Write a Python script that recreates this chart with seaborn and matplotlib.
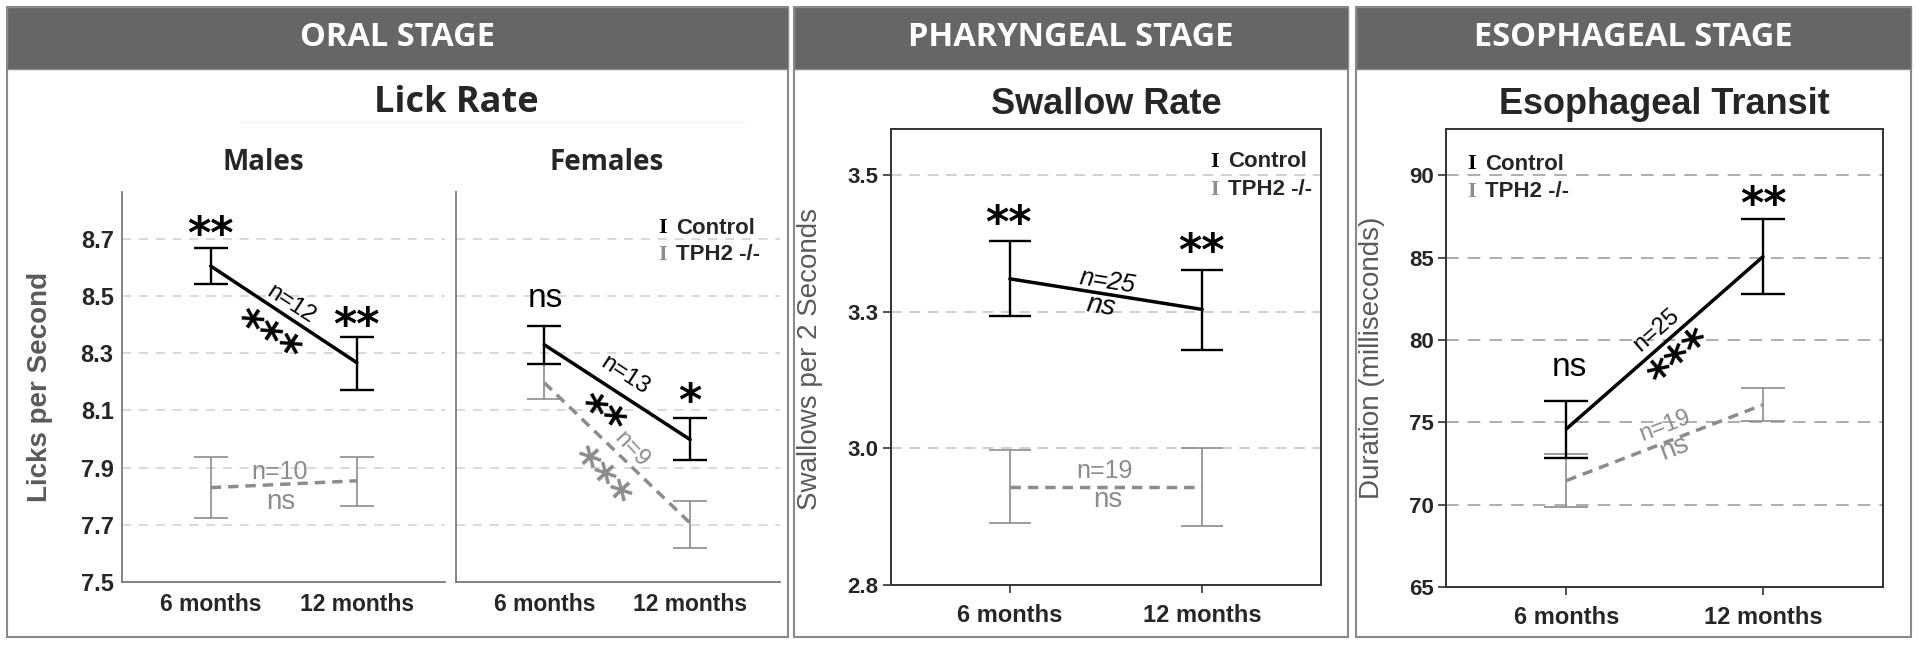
import numpy as np
import pandas as pd
import matplotlib
matplotlib.use("Agg")
import matplotlib.pyplot as plt
import matplotlib.transforms as mtransforms
import seaborn as sns
from matplotlib.patches import Rectangle
from matplotlib.lines import Line2D

# x categories
ages = ["6 months", "12 months"]

# Lick rate - males
males_ctrl_mean = [8.605, 8.267]
males_ctrl_lo = [8.541, 8.173]
males_ctrl_hi = [8.667, 8.356]
males_ko_mean = [7.83, 7.854]
males_ko_lo = [7.723, 7.767]
males_ko_hi = [7.937, 7.937]

# Lick rate - females
fem_ctrl_mean = [8.33, 7.998]
fem_ctrl_lo = [8.262, 7.927]
fem_ctrl_hi = [8.397, 8.075]
fem_ko_mean = [8.197, 7.706]
fem_ko_lo = [8.14, 7.62]
fem_ko_hi = [8.262, 7.782]

# Swallow rate
swal_ctrl_mean = [3.31, 3.254]
swal_ctrl_lo = [3.242, 3.18]
swal_ctrl_hi = [3.379, 3.326]
swal_ko_mean = [2.929, 2.929]
swal_ko_lo = [2.864, 2.857]
swal_ko_hi = [2.997, 3.0]

# Esophageal transit
eso_ctrl_mean = [74.6, 85.05]
eso_ctrl_lo = [72.84, 82.76]
eso_ctrl_hi = [76.26, 87.36]
eso_ko_mean = [71.46, 76.06]
eso_ko_lo = [69.85, 75.1]
eso_ko_hi = [73.07, 77.06]

lick_ticks = [7.5, 7.7, 7.9, 8.1, 8.3, 8.5, 8.7]
swal_ticks = [2.75, 3.0, 3.25, 3.5]
swal_tick_labels = ["2.8", "3.0", "3.3", "3.5"]
eso_ticks = [65, 70, 75, 80, 85, 90]

GRAY = "#8c8c8c"
W, H = 1920, 646

sns.set_theme(style="white")
plt.rcParams["font.family"] = ["Liberation Sans", "DejaVu Sans"]

fig = plt.figure(figsize=(19.2, 6.46), dpi=100)


def fx(px):
    return px / W


def fy(py):
    return 1 - py / H


def add_axes(left, top, right, bottom):
    return fig.add_axes([fx(left), fy(bottom), fx(right) - fx(left), (bottom - top) / H])


def draw(ax, cm, clo, chi, km, klo, khi, cap):
    x = [0, 1]
    km_a, klo_a, khi_a = np.array(km), np.array(klo), np.array(khi)
    cm_a, clo_a, chi_a = np.array(cm), np.array(clo), np.array(chi)
    ax.errorbar(x, km_a, yerr=[km_a - klo_a, khi_a - km_a], fmt="none",
                ecolor=GRAY, elinewidth=1.2, capsize=cap, capthick=1.2, zorder=2)
    df = pd.DataFrame({"age": [0, 1, 0, 1], "value": list(cm) + list(km),
                       "group": ["Control"] * 2 + ["TPH2 -/-"] * 2})
    sns.lineplot(data=df, x="age", y="value", hue="group", style="group",
                 palette={"Control": "black", "TPH2 -/-": GRAY},
                 dashes={"Control": "", "TPH2 -/-": (3, 2)},
                 linewidth=2.5, legend=False, ax=ax, zorder=3)
    ax.errorbar(x, cm_a, yerr=[cm_a - clo_a, chi_a - cm_a], fmt="none",
                ecolor="black", elinewidth=1.7, capsize=cap, capthick=1.7, zorder=4)
    ax.set_xlabel("")
    ax.set_ylabel("")


def stars(ax, x, y, s, rot=0, color="black", size=32):
    # asterisks sit high in the glyph box; shift so their visual centre lands on (x, y)
    off = 0.29 * size * 100 / 72
    th = np.radians(rot)
    tr = mtransforms.offset_copy(ax.transData, fig=fig, x=off * np.sin(th),
                                 y=-off * np.cos(th), units="dots")
    ax.text(x, y, s, transform=tr, family="DejaVu Sans", fontsize=size,
            fontweight="bold", color=color, rotation=rot, rotation_mode="anchor",
            ha="center", va="center")


def label(ax, x, y, s, size, rot=0, color="black", style="normal"):
    ax.text(x, y, s, fontsize=size, color=color, style=style, rotation=rot,
            rotation_mode="anchor", ha="center", va="center")


def legend_text(ax, x, y1, y2, tx, size=16):
    ax.text(x, y1, "I", family="Liberation Serif", fontsize=size, fontweight="bold",
            color="black", ha="center", va="center")
    ax.text(x, y2, "I", family="Liberation Serif", fontsize=size, fontweight="bold",
            color=GRAY, ha="center", va="center")
    ax.text(tx, y1, "Control", fontsize=size, fontweight="bold", ha="left", va="center")
    ax.text(tx, y2, "TPH2 -/-", fontsize=size, fontweight="bold", ha="left", va="center")


# panel frames and headers
panels = [(7, 788, "ORAL STAGE"), (794, 1348, "PHARYNGEAL STAGE"),
          (1356, 1911, "ESOPHAGEAL STAGE")]
for l, r, name in panels:
    fig.add_artist(Rectangle((fx(l), fy(637)), fx(r) - fx(l), (637 - 7) / H,
                             transform=fig.transFigure, facecolor="white",
                             edgecolor="#8a8a8a", lw=1.5, zorder=0))
    fig.add_artist(Rectangle((fx(l), fy(69)), fx(r) - fx(l), (69 - 7) / H,
                             transform=fig.transFigure, facecolor="#666666",
                             edgecolor="#8a8a8a", lw=1.0, zorder=1))
    fig.text(fx((l + r) / 2), fy(38), name, family="Open Sans", fontweight="bold",
             fontsize=23.5, color="white", ha="center", va="center")

# ---------- Oral stage ----------
fig.text(fx(456), fy(103), "Lick Rate", family="Open Sans", fontweight="bold",
         fontsize=26, ha="center", va="center")
fig.add_artist(Line2D([fx(240), fx(745)], [fy(122), fy(122)], color="#f2f2f2", lw=1.0))
fig.text(fx(263), fy(163), "Males", family="Open Sans", fontweight="bold",
         fontsize=20, ha="center", va="center")
fig.text(fx(607), fy(163), "Females", family="Open Sans", fontweight="bold",
         fontsize=20, ha="center", va="center")

ax_m = add_axes(122, 192, 445, 582)
ax_f = add_axes(456, 192, 780, 582)
draw(ax_m, males_ctrl_mean, males_ctrl_lo, males_ctrl_hi,
     males_ko_mean, males_ko_lo, males_ko_hi, 12.5)
draw(ax_f, fem_ctrl_mean, fem_ctrl_lo, fem_ctrl_hi,
     fem_ko_mean, fem_ko_lo, fem_ko_hi, 12.5)
ax_m.set_xlim(-0.607, 1.603)
ax_f.set_xlim(-0.605, 1.616)
for ax in (ax_m, ax_f):
    ax.set_ylim(7.5, 8.864)
    ax.set_yticks(lick_ticks)
    ax.set_xticks([0, 1])
    ax.set_xticklabels(ages, fontsize=16.5, fontweight="bold")
    for s in ("top", "right"):
        ax.spines[s].set_visible(False)
    for s in ("left", "bottom"):
        ax.spines[s].set_color("#7a7a7a")
        ax.spines[s].set_linewidth(1.3)
    ax.tick_params(length=0, pad=8)
    ax.patch.set_alpha(0)
    for t in lick_ticks[1:]:
        ax.axhline(t, color="#cfcfcf", lw=1.1, ls=(0, (6, 5)), zorder=0)
ax_m.set_yticklabels([f"{t:.1f}" for t in lick_ticks], fontsize=17, fontweight="bold")
ax_m.tick_params(axis="y", pad=6)
ax_f.set_yticklabels([])
ax_m.set_ylabel("Licks per Second", fontsize=20, fontweight="bold", color="#5a5a5a")
ax_m.yaxis.set_label_coords(-0.215, 0.5)

stars(ax_m, 0, 8.756, "**")
label(ax_m, 0.548, 8.472, "n=12", 17, rot=-33)
stars(ax_m, 0.425, 8.385, "***", rot=-33)
stars(ax_m, 1, 8.4375, "**")
label(ax_m, 0.473, 7.885, "n=10", 18, color=GRAY)
label(ax_m, 0.48, 7.78, "ns", 20, color=GRAY)

label(ax_f, 0.01, 8.493, "ns", 24)
label(ax_f, 0.555, 8.222, "n=13", 17, rot=-33)
stars(ax_f, 0.43, 8.112, "**", rot=-33)
stars(ax_f, 1.0, 8.172, "*")
label(ax_f, 0.596, 7.962, "n=9", 17, rot=-47, color=GRAY)
stars(ax_f, 0.43, 7.888, "***", rot=-47, color=GRAY)
legend_text(ax_f, 0.808, 8.737, 8.644, 0.904)

# ---------- Pharyngeal stage ----------
fig.text(fx(1106), fy(105), "Swallow Rate", fontweight="bold", fontsize=26,
         ha="center", va="center")
ax_s = add_axes(891, 129, 1321, 585)
draw(ax_s, swal_ctrl_mean, swal_ctrl_lo, swal_ctrl_hi,
     swal_ko_mean, swal_ko_lo, swal_ko_hi, 15)
ax_s.set_xlim(-0.618, 1.618)
ax_s.set_ylim(2.75, 3.584)
ax_s.set_yticks(swal_ticks)
ax_s.set_yticklabels(swal_tick_labels, fontsize=16, fontweight="bold")
for t in swal_ticks[1:]:
    ax_s.axhline(t, color="#c4c4c4", lw=1.1, ls=(0, (7, 5)), zorder=0)
ax_s.set_ylabel("Swallows per 2 Seconds", fontsize=20, color="#5a5a5a")
ax_s.yaxis.set_label_coords(-0.157, 0.495)
stars(ax_s, -0.01, 3.432, "**")
stars(ax_s, 0.995, 3.381, "**")
label(ax_s, 0.505, 3.306, "n=25", 18, rot=-9, style="italic")
label(ax_s, 0.475, 3.259, "ns", 20, rot=-9, style="italic")
label(ax_s, 0.49, 2.958, "n=19", 18, color=GRAY)
label(ax_s, 0.51, 2.905, "ns", 20, color=GRAY)
legend_text(ax_s, 1.062, 3.524, 3.473, 1.135)

# ---------- Esophageal stage ----------
fig.text(fx(1664), fy(105), "Esophageal Transit", fontweight="bold", fontsize=26,
         ha="center", va="center")
ax_e = add_axes(1446, 129, 1883, 587)
draw(ax_e, eso_ctrl_mean, eso_ctrl_lo, eso_ctrl_hi,
     eso_ko_mean, eso_ko_lo, eso_ko_hi, 15.5)
ax_e.set_xlim(-0.613, 1.611)
ax_e.set_ylim(65, 92.8)
ax_e.set_yticks(eso_ticks)
ax_e.set_yticklabels([str(t) for t in eso_ticks], fontsize=16, fontweight="bold")
for t in eso_ticks[1:]:
    ax_e.axhline(t, color="#a8a8a8", lw=1.3, ls=(0, (7, 5)), zorder=0)
ax_e.set_ylabel("Duration (milliseconds)", fontsize=20, color="#5a5a5a")
ax_e.yaxis.set_label_coords(-0.14, 0.5)
label(ax_e, 0.013, 78.31, "ns", 24)
stars(ax_e, 1.0, 88.94, "**")
label(ax_e, 0.456, 80.57, "n=25", 17, rot=41)
stars(ax_e, 0.548, 79.33, "***", rot=41)
label(ax_e, 0.502, 74.8, "n=19", 17, rot=21, color=GRAY)
label(ax_e, 0.548, 73.44, "ns", 20, rot=21, color=GRAY)
legend_text(ax_e, -0.481, 90.67, 89.0, -0.414)

for ax in (ax_s, ax_e):
    ax.set_xticks([0, 1])
    ax.set_xticklabels(ages, fontsize=17, fontweight="bold")
    for s in ax.spines.values():
        s.set_color("#333333")
        s.set_linewidth(1.4)
    ax.tick_params(axis="both", direction="out", length=6, width=1.2,
                   color="#333333", left=True, bottom=True)
    ax.tick_params(axis="x", pad=8)
    ax.tick_params(axis="y", pad=3)
    ax.patch.set_alpha(0)

fig.savefig("out.png", dpi=100)
